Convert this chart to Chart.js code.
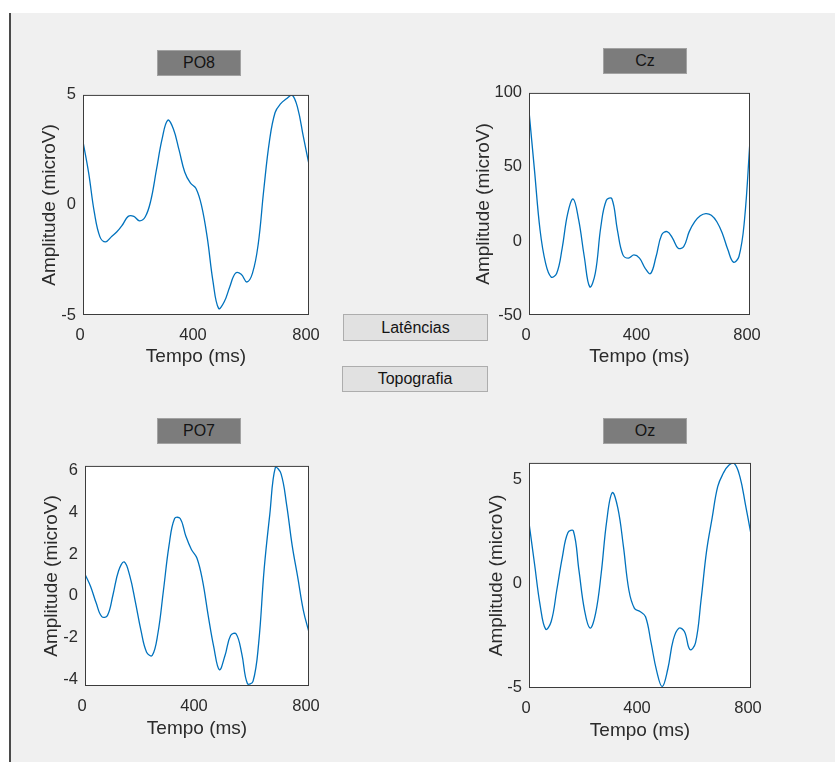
<!DOCTYPE html>
<html>
<head>
<meta charset="utf-8">
<script src="https://cdn.jsdelivr.net/npm/chart.js@4.4.1/dist/chart.umd.min.js"></script>
<style>
    html, body { margin: 0; padding: 0; background: #fff; }
    body { width: 835px; height: 762px; position: relative; overflow: hidden; font-family: "Liberation Sans", Arial, sans-serif; }
    #panel { position: absolute; left: 9px; top: 13px; right: 0; bottom: 0; background: #f0f0f0; border-left: 2px solid #4a4a4a; }
    .tag { position: absolute; width: 84px; height: 26px; background: #7c7c7c; border: 1px solid #a2a2a2; box-sizing: border-box; text-align: center; line-height: 24px; font-size: 16px; color: #141414; }
    .btn { position: absolute; height: 27px; background: #e1e1e1; border: 1px solid #adadad; box-sizing: border-box; text-align: center; line-height: 25px; font-size: 16px; color: #141414; }
    canvas { position: absolute; }
</style>
</head>
<body>
<div id="panel"></div>

<div class="tag" style="left:157px; top:50px;">PO8</div>
<div class="tag" style="left:603px; top:48px;">Cz</div>
<div class="tag" style="left:157px; top:418px;">PO7</div>
<div class="tag" style="left:603px; top:418px;">Oz</div>

<div class="btn" style="left:343px; top:314px; width:145px;">Latências</div>
<div class="btn" style="left:342px; top:366px; width:146px; height:26px; line-height:24px;">Topografia</div>

<canvas id="chartPO8"></canvas>
<canvas id="chartCz"></canvas>
<canvas id="chartPO7"></canvas>
<canvas id="chartOz"></canvas>

<script>
// time axis (ms)
const tempoMs = [0, 20, 40, 60, 80, 100, 120, 140, 160, 180, 200, 220, 240, 260, 280, 300, 320, 340, 360, 380,
    400, 420, 440, 460, 480, 500, 520, 540, 560, 580, 600, 620, 640, 660, 680, 700, 720, 740, 760, 780, 800];

// amplitudes (microV)
const po8 = [2.88, 1.46, -0.33, -1.45, -1.68, -1.45, -1.22, -0.9, -0.52, -0.52, -0.72, -0.55, 0.2, 1.6, 3.0, 3.85,
    3.45, 2.5, 1.5, 1.0, 0.75, -0.05, -1.5, -3.46, -4.7, -4.4, -3.7, -3.1, -3.15, -3.5, -3.1, -1.8, 0.7, 2.9, 4.2,
    4.6, 4.82, 5.0, 4.4, 3.1, 1.84];
const cz = [87.7, 47.5, 7.4, -15, -24.3, -22, -5, 18.5, 28.3, 14, -10.5, -31, -21.7, 9.6, 27.5, 28.5, 7.4, -9.4,
    -11.6, -9.4, -11.6, -18.3, -22, -10.5, 4, 6.3, 1.8, -4.9, -3.8, 6.3, 13, 17, 18.5, 17.4, 13, 5.1, -6, -14.3,
    -10.5, 14, 67.6];
const po7 = [1.03, 0.45, -0.35, -1.0, -0.95, 0.05, 1.2, 1.62, 0.95, -0.3, -1.67, -2.7, -2.86, -1.83, 0.24, 2.4,
    3.7, 3.7, 2.86, 2.22, 1.8, 0.71, -0.95, -2.46, -3.54, -2.86, -1.9, -1.83, -2.78, -4.2, -4.1, -2.3, 1.3, 3.9,
    6.15, 5.85, 4.37, 2.4, 0.87, -0.71, -1.75];
const oz = [2.91, 0.93, -1.04, -2.2, -1.83, -0.33, 1.25, 2.43, 2.51, 0.62, -1.28, -2.15, -1.44, 0.46, 2.99, 4.35,
    3.62, 1.8, -0.33, -1.2, -1.35, -1.6, -2.86, -4.2, -4.95, -4.12, -2.7, -2.15, -2.31, -3.18, -2.86, -0.8, 1.56,
    3.14, 4.64, 5.28, 5.67, 5.75, 5.12, 3.78, 2.35];

// tick values
const xTicks = [0, 400, 800];
const po8Ticks = [-5, 0, 5];
const czTicks = [-50, 0, 50, 100];
const po7Ticks = [-4, -2, 0, 2, 4, 6];
const ozTicks = [-5, 0, 5];

const fontFamily = '"Liberation Sans", Arial, sans-serif';
const textColor = '#2b2b2b';

// white plot background + dark frame
const frame = {
    id: 'frame',
    beforeDraw(chart) {
        const a = chart.chartArea;
        const ctx = chart.ctx;
        ctx.save();
        ctx.fillStyle = '#ffffff';
        ctx.fillRect(a.left, a.top, a.right - a.left, a.bottom - a.top);
        ctx.restore();
    },
    afterDatasetsDraw(chart) {
        const a = chart.chartArea;
        const ctx = chart.ctx;
        ctx.save();
        ctx.strokeStyle = '#3c3c3c';
        ctx.lineWidth = 1;
        ctx.strokeRect(a.left + 0.5, a.top + 0.5, a.right - a.left - 1, a.bottom - a.top - 1);
        ctx.restore();
    }
};

function makePlot(id, values, yMin, yMax, yTicks, box, L, B) {
    const T = 15, R = 25;
    const canvas = document.getElementById(id);
    canvas.width = L + box.w + R;
    canvas.height = T + box.h + B;
    canvas.style.left = (box.l - L) + 'px';
    canvas.style.top = (box.t - T) + 'px';

    return new Chart(canvas, {
        type: 'line',
        data: {
            labels: tempoMs,
            datasets: [{
                data: tempoMs.map((t, i) => ({ x: t, y: values[i] })),
                borderColor: '#0072BD',
                borderWidth: 1.3,
                pointRadius: 0,
                tension: 0.4,
                fill: false
            }]
        },
        options: {
            responsive: false,
            animation: false,
            layout: { padding: { top: T, right: R, left: 0, bottom: 0 } },
            plugins: { legend: { display: false }, tooltip: { enabled: false } },
            scales: {
                x: {
                    type: 'linear',
                    min: 0,
                    max: 800,
                    bounds: 'data',
                    grid: { display: false, drawTicks: false },
                    border: { display: false },
                    afterBuildTicks: s => { s.ticks = xTicks.map(v => ({ value: v })); },
                    afterFit: s => { s.height = B; },
                    ticks: { color: textColor, padding: 11, labelOffset: -3, maxRotation: 0, font: { family: fontFamily, size: 16.5 } },
                    title: { display: true, text: 'Tempo (ms)', color: textColor, padding: 0, font: { family: fontFamily, size: 19 } }
                },
                y: {
                    min: yMin,
                    max: yMax,
                    bounds: 'data',
                    grid: { display: false, drawTicks: false },
                    border: { display: false },
                    afterBuildTicks: s => { s.ticks = yTicks.map(v => ({ value: v })); },
                    afterFit: s => { s.width = L; },
                    ticks: { color: textColor, padding: 7, font: { family: fontFamily, size: 16.5 } },
                    title: { display: true, text: 'Amplitude (microV)', color: textColor, padding: 0, font: { family: fontFamily, size: 19 } }
                }
            }
        },
        plugins: [frame]
    });
}

makePlot('chartPO8', po8, -5, 5, po8Ticks, { l: 83, t: 93, w: 226, h: 222 }, 45, 53);
makePlot('chartCz', cz, -50, 100, czTicks, { l: 529, t: 91, w: 221, h: 224 }, 57, 53);
makePlot('chartPO7', po7, -4.32, 6.22, po7Ticks, { l: 85, t: 464, w: 224, h: 222 }, 45, 54);
makePlot('chartOz', oz, -5.02, 5.78, ozTicks, { l: 529, t: 461, w: 222, h: 227 }, 44, 54);
</script>
</body>
</html>
